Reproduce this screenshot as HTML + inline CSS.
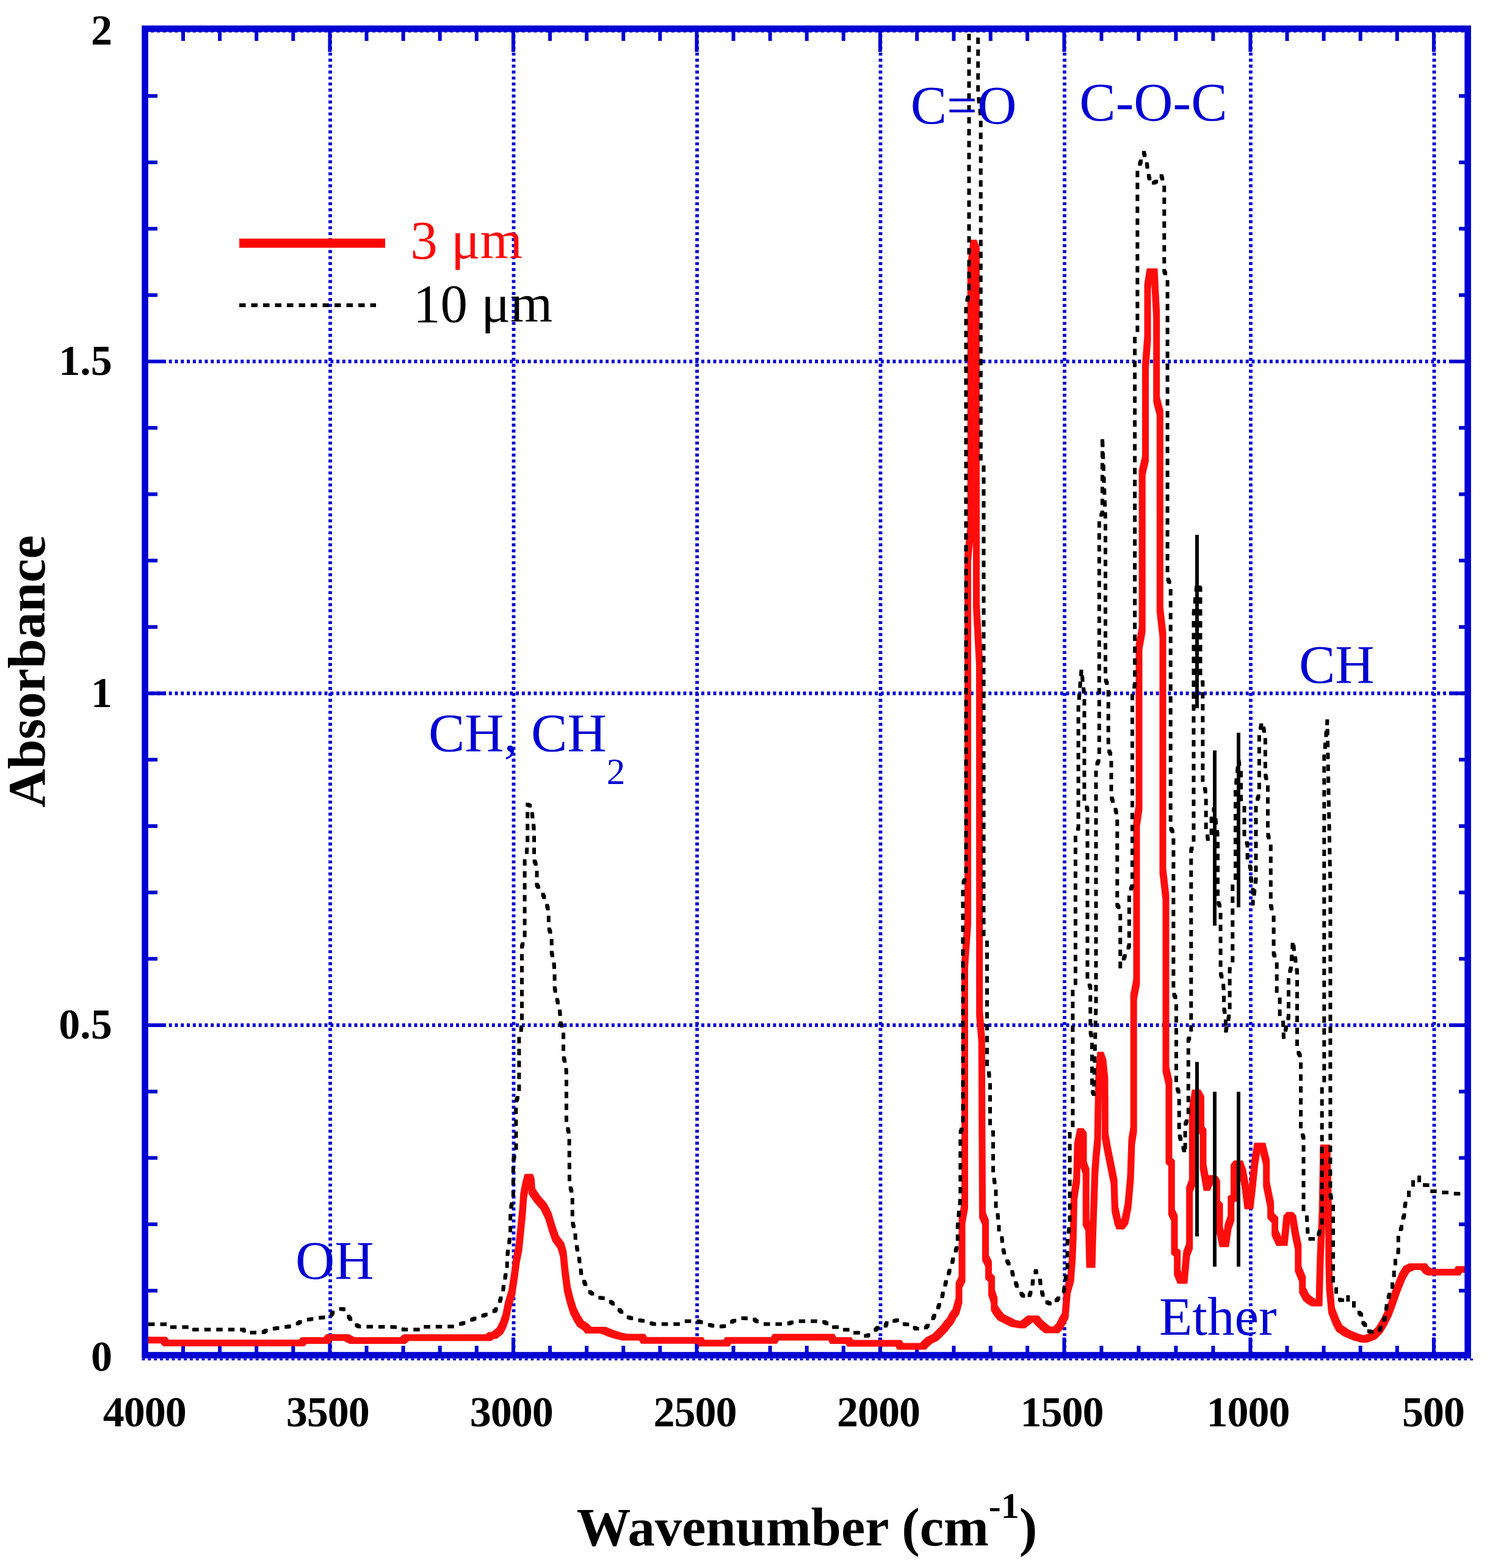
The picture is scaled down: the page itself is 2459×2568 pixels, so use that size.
<!DOCTYPE html>
<html><head><meta charset="utf-8"><title>IR spectrum</title>
<style>html,body{margin:0;padding:0;background:#fff;}svg{display:block;}</style></head>
<body><svg width="2459" height="2568" viewBox="0 0 2459 2568">
<rect width="2459" height="2568" fill="#fff"/>
<g stroke="#0000d2" stroke-width="5.8" stroke-dasharray="4.9 4.9" fill="none"><line x1="541.0" y1="47.0" x2="541.0" y2="2219.5"/><line x1="841.5" y1="47.0" x2="841.5" y2="2219.5"/><line x1="1142.0" y1="47.0" x2="1142.0" y2="2219.5"/><line x1="1442.5" y1="47.0" x2="1442.5" y2="2219.5"/><line x1="1744.0" y1="47.0" x2="1744.0" y2="2219.5"/><line x1="2049.0" y1="47.0" x2="2049.0" y2="2219.5"/><line x1="2349.5" y1="47.0" x2="2349.5" y2="2219.5"/><line x1="237.5" y1="1679.0" x2="2404.6" y2="1679.0"/><line x1="237.5" y1="1135.5" x2="2404.6" y2="1135.5"/><line x1="237.5" y1="592.0" x2="2404.6" y2="592.0"/><line x1="232.5" y1="2226.4" x2="2414.1" y2="2226.4" stroke-width="3"/><line x1="237.5" y1="52.6" x2="2404.6" y2="52.6" stroke-width="1.4"/></g>
<g stroke="#0000d2" stroke-width="6" fill="none"><line x1="300.0" y1="47.0" x2="300.0" y2="67.0"/><line x1="300.0" y1="2219.5" x2="300.0" y2="2204.0"/><line x1="360.1" y1="47.0" x2="360.1" y2="67.0"/><line x1="360.1" y1="2219.5" x2="360.1" y2="2204.0"/><line x1="420.2" y1="47.0" x2="420.2" y2="67.0"/><line x1="420.2" y1="2219.5" x2="420.2" y2="2204.0"/><line x1="480.3" y1="47.0" x2="480.3" y2="67.0"/><line x1="480.3" y1="2219.5" x2="480.3" y2="2204.0"/><line x1="540.4" y1="47.0" x2="540.4" y2="85.0"/><line x1="540.4" y1="2219.5" x2="540.4" y2="2190.5"/><line x1="600.5" y1="47.0" x2="600.5" y2="67.0"/><line x1="600.5" y1="2219.5" x2="600.5" y2="2204.0"/><line x1="660.6" y1="47.0" x2="660.6" y2="67.0"/><line x1="660.6" y1="2219.5" x2="660.6" y2="2204.0"/><line x1="720.7" y1="47.0" x2="720.7" y2="67.0"/><line x1="720.7" y1="2219.5" x2="720.7" y2="2204.0"/><line x1="780.8" y1="47.0" x2="780.8" y2="67.0"/><line x1="780.8" y1="2219.5" x2="780.8" y2="2204.0"/><line x1="840.9" y1="47.0" x2="840.9" y2="85.0"/><line x1="840.9" y1="2219.5" x2="840.9" y2="2190.5"/><line x1="901.0" y1="47.0" x2="901.0" y2="67.0"/><line x1="901.0" y1="2219.5" x2="901.0" y2="2204.0"/><line x1="961.1" y1="47.0" x2="961.1" y2="67.0"/><line x1="961.1" y1="2219.5" x2="961.1" y2="2204.0"/><line x1="1021.2" y1="47.0" x2="1021.2" y2="67.0"/><line x1="1021.2" y1="2219.5" x2="1021.2" y2="2204.0"/><line x1="1081.3" y1="47.0" x2="1081.3" y2="67.0"/><line x1="1081.3" y1="2219.5" x2="1081.3" y2="2204.0"/><line x1="1141.4" y1="47.0" x2="1141.4" y2="85.0"/><line x1="1141.4" y1="2219.5" x2="1141.4" y2="2190.5"/><line x1="1201.5" y1="47.0" x2="1201.5" y2="67.0"/><line x1="1201.5" y1="2219.5" x2="1201.5" y2="2204.0"/><line x1="1261.6" y1="47.0" x2="1261.6" y2="67.0"/><line x1="1261.6" y1="2219.5" x2="1261.6" y2="2204.0"/><line x1="1321.7" y1="47.0" x2="1321.7" y2="67.0"/><line x1="1321.7" y1="2219.5" x2="1321.7" y2="2204.0"/><line x1="1381.8" y1="47.0" x2="1381.8" y2="67.0"/><line x1="1381.8" y1="2219.5" x2="1381.8" y2="2204.0"/><line x1="1441.9" y1="47.0" x2="1441.9" y2="85.0"/><line x1="1441.9" y1="2219.5" x2="1441.9" y2="2190.5"/><line x1="1502.2" y1="47.0" x2="1502.2" y2="67.0"/><line x1="1502.2" y1="2219.5" x2="1502.2" y2="2204.0"/><line x1="1562.5" y1="47.0" x2="1562.5" y2="67.0"/><line x1="1562.5" y1="2219.5" x2="1562.5" y2="2204.0"/><line x1="1622.8" y1="47.0" x2="1622.8" y2="67.0"/><line x1="1622.8" y1="2219.5" x2="1622.8" y2="2204.0"/><line x1="1683.1" y1="47.0" x2="1683.1" y2="67.0"/><line x1="1683.1" y1="2219.5" x2="1683.1" y2="2204.0"/><line x1="1743.4" y1="47.0" x2="1743.4" y2="85.0"/><line x1="1743.4" y1="2219.5" x2="1743.4" y2="2190.5"/><line x1="1804.4" y1="47.0" x2="1804.4" y2="67.0"/><line x1="1804.4" y1="2219.5" x2="1804.4" y2="2204.0"/><line x1="1865.4" y1="47.0" x2="1865.4" y2="67.0"/><line x1="1865.4" y1="2219.5" x2="1865.4" y2="2204.0"/><line x1="1926.4" y1="47.0" x2="1926.4" y2="67.0"/><line x1="1926.4" y1="2219.5" x2="1926.4" y2="2204.0"/><line x1="1987.4" y1="47.0" x2="1987.4" y2="67.0"/><line x1="1987.4" y1="2219.5" x2="1987.4" y2="2204.0"/><line x1="2048.4" y1="47.0" x2="2048.4" y2="85.0"/><line x1="2048.4" y1="2219.5" x2="2048.4" y2="2190.5"/><line x1="2108.5" y1="47.0" x2="2108.5" y2="67.0"/><line x1="2108.5" y1="2219.5" x2="2108.5" y2="2204.0"/><line x1="2168.6" y1="47.0" x2="2168.6" y2="67.0"/><line x1="2168.6" y1="2219.5" x2="2168.6" y2="2204.0"/><line x1="2228.7" y1="47.0" x2="2228.7" y2="67.0"/><line x1="2228.7" y1="2219.5" x2="2228.7" y2="2204.0"/><line x1="2288.8" y1="47.0" x2="2288.8" y2="67.0"/><line x1="2288.8" y1="2219.5" x2="2288.8" y2="2204.0"/><line x1="2348.9" y1="47.0" x2="2348.9" y2="85.0"/><line x1="2348.9" y1="2219.5" x2="2348.9" y2="2190.5"/><line x1="237.5" y1="2113.8" x2="258.0" y2="2113.8"/><line x1="2404.6" y1="2113.8" x2="2390.0" y2="2113.8"/><line x1="237.5" y1="2005.1" x2="258.0" y2="2005.1"/><line x1="2404.6" y1="2005.1" x2="2390.0" y2="2005.1"/><line x1="237.5" y1="1896.4" x2="258.0" y2="1896.4"/><line x1="2404.6" y1="1896.4" x2="2390.0" y2="1896.4"/><line x1="237.5" y1="1787.7" x2="258.0" y2="1787.7"/><line x1="2404.6" y1="1787.7" x2="2390.0" y2="1787.7"/><line x1="237.5" y1="1679.0" x2="272.0" y2="1679.0"/><line x1="2404.6" y1="1679.0" x2="2375.6" y2="1679.0"/><line x1="237.5" y1="1570.3" x2="258.0" y2="1570.3"/><line x1="2404.6" y1="1570.3" x2="2390.0" y2="1570.3"/><line x1="237.5" y1="1461.6" x2="258.0" y2="1461.6"/><line x1="2404.6" y1="1461.6" x2="2390.0" y2="1461.6"/><line x1="237.5" y1="1352.9" x2="258.0" y2="1352.9"/><line x1="2404.6" y1="1352.9" x2="2390.0" y2="1352.9"/><line x1="237.5" y1="1244.2" x2="258.0" y2="1244.2"/><line x1="2404.6" y1="1244.2" x2="2390.0" y2="1244.2"/><line x1="237.5" y1="1135.5" x2="272.0" y2="1135.5"/><line x1="2404.6" y1="1135.5" x2="2375.6" y2="1135.5"/><line x1="237.5" y1="1026.8" x2="258.0" y2="1026.8"/><line x1="2404.6" y1="1026.8" x2="2390.0" y2="1026.8"/><line x1="237.5" y1="918.1" x2="258.0" y2="918.1"/><line x1="2404.6" y1="918.1" x2="2390.0" y2="918.1"/><line x1="237.5" y1="809.4" x2="258.0" y2="809.4"/><line x1="2404.6" y1="809.4" x2="2390.0" y2="809.4"/><line x1="237.5" y1="700.7" x2="258.0" y2="700.7"/><line x1="2404.6" y1="700.7" x2="2390.0" y2="700.7"/><line x1="237.5" y1="592.0" x2="272.0" y2="592.0"/><line x1="2404.6" y1="592.0" x2="2375.6" y2="592.0"/><line x1="237.5" y1="483.3" x2="258.0" y2="483.3"/><line x1="2404.6" y1="483.3" x2="2390.0" y2="483.3"/><line x1="237.5" y1="374.6" x2="258.0" y2="374.6"/><line x1="2404.6" y1="374.6" x2="2390.0" y2="374.6"/><line x1="237.5" y1="265.9" x2="258.0" y2="265.9"/><line x1="2404.6" y1="265.9" x2="2390.0" y2="265.9"/><line x1="237.5" y1="157.2" x2="258.0" y2="157.2"/><line x1="2404.6" y1="157.2" x2="2390.0" y2="157.2"/></g>
<defs><filter id="sq" x="0" y="0" width="2459" height="2568" filterUnits="userSpaceOnUse"><feMorphology operator="dilate" radius="4"/></filter><filter id="sq2" x="0" y="0" width="2459" height="2568" filterUnits="userSpaceOnUse"><feMorphology operator="dilate" radius="2"/></filter><clipPath id="pc"><rect x="237.5" y="47.0" width="2167.1" height="2172.5"/></clipPath></defs>
<g clip-path="url(#pc)"><polyline points="232.0,2194.7 268.0,2194.7 272.0,2199.5 494.0,2199.5 498.0,2195.5 535.0,2195.5 539.0,2190.5 567.0,2190.5 577.0,2195.5 660.0,2195.5 665.0,2190.8 800.0,2190.8 805.0,2187.0 809.4,2187.2 819.0,2179.5 824.0,2169.8 828.8,2156.2 832.6,2136.8 838.4,2117.4 842.3,2092.2 846.2,2063.2 850.1,2043.8 853.0,2014.7 855.9,1985.7 857.8,1958.5 860.7,1943.0 864.6,1928.0 868.0,1928.0 870.4,1935.0 871.4,1950.8 879.1,1962.4 890.8,1976.0 898.5,1991.5 904.3,2010.9 910.2,2028.3 918.9,2040.0 922.8,2053.5 925.7,2082.6 929.5,2111.6 934.4,2131.0 939.2,2146.5 945.0,2158.1 950.9,2167.8 959.6,2173.6 964.0,2178.5 988.0,2178.5 998.0,2182.7 1013.0,2187.6 1024.0,2190.0 1052.0,2190.0 1055.0,2195.3 1147.0,2195.3 1150.0,2199.8 1190.0,2199.8 1193.0,2195.3 1268.0,2195.3 1271.0,2190.0 1352.0,2190.0 1362.0,2190.0 1365.0,2195.4 1390.0,2195.4 1393.0,2200.0 1472.0,2200.0 1475.0,2205.0 1512.0,2205.0 1516.6,2200.0 1522.5,2195.0 1532.0,2190.3 1537.7,2185.0 1542.4,2180.0 1547.0,2175.4 1551.8,2168.7 1556.5,2163.6 1561.0,2155.0 1566.0,2148.0 1571.0,2130.0 1571.0,2105.0 1576.0,2095.0 1576.0,2000.0 1580.5,1975.0 1580.5,1580.0 1585.5,1510.0 1585.5,913.0 1590.3,866.0 1590.3,440.0 1595.0,398.0 1599.5,410.0 1599.5,990.0 1601.0,1020.0 1604.5,1085.0 1604.7,1660.0 1608.2,1702.0 1609.5,1990.0 1614.5,2002.0 1614.5,2060.0 1619.5,2070.0 1619.5,2090.0 1624.5,2095.0 1624.5,2117.0 1628.8,2130.0 1628.8,2142.0 1633.8,2150.0 1640.0,2157.5 1650.0,2162.5 1660.0,2167.5 1675.0,2170.0 1680.0,2166.0 1687.6,2160.0 1697.0,2160.0 1702.0,2166.0 1708.0,2171.5 1716.0,2178.0 1730.0,2178.0 1736.0,2172.0 1741.0,2162.0 1745.0,2155.0 1748.4,2114.5 1754.0,2095.0 1756.8,2058.5 1758.2,2024.8 1759.6,1960.3 1763.8,1932.3 1765.2,1876.0 1770.0,1853.0 1775.0,1859.4 1775.0,1907.0 1779.2,1918.3 1779.2,2002.4 1783.5,2010.8 1785.0,2071.0 1789.0,2071.0 1790.5,2016.4 1793.8,1918.3 1796.0,1890.0 1798.0,1870.0 1800.0,1760.0 1803.0,1728.0 1807.0,1740.0 1810.0,1770.0 1810.5,1860.0 1814.0,1880.0 1818.0,1900.0 1822.0,1920.0 1825.0,1935.0 1826.5,1980.0 1831.0,2000.0 1834.0,2008.0 1836.5,2008.0 1843.0,2000.0 1848.0,1975.0 1852.0,1930.0 1854.0,1870.0 1857.2,1850.0 1857.2,1633.0 1862.0,1608.0 1862.0,1350.0 1866.0,1322.0 1866.0,1060.0 1871.2,1031.0 1871.2,774.0 1876.5,751.0 1876.5,600.0 1880.0,554.0 1880.0,470.0 1884.0,445.0 1891.0,445.0 1894.7,516.0 1894.7,654.0 1900.3,676.0 1900.3,998.0 1905.0,1040.0 1905.0,1426.0 1910.0,1470.0 1910.0,1751.0 1915.0,1773.0 1915.0,1901.0 1919.3,1905.0 1919.3,1985.0 1924.0,1995.0 1924.0,2049.0 1928.7,2053.0 1928.7,2084.0 1934.0,2097.0 1940.0,2097.0 1944.0,2053.0 1948.7,2041.0 1948.7,1948.0 1953.4,1936.0 1953.4,1819.0 1958.0,1790.0 1962.0,1790.0 1967.5,1800.0 1967.5,1849.0 1971.0,1854.0 1971.0,1910.0 1977.0,1945.0 1984.0,1930.0 1990.0,1932.0 1993.3,1938.0 1993.3,1971.0 1998.0,1976.0 1998.0,2013.0 2003.0,2037.0 2008.0,2037.0 2012.0,2009.0 2016.8,1995.0 2016.8,1964.0 2021.5,1962.0 2021.5,1912.0 2026.0,1906.0 2031.0,1906.0 2036.0,1920.0 2040.0,1943.0 2044.0,1975.0 2048.0,1975.0 2052.0,1940.0 2055.6,1904.0 2060.0,1877.0 2068.0,1877.0 2074.7,1904.0 2074.7,1939.0 2081.7,1974.0 2081.7,1991.0 2088.6,1998.0 2088.6,2019.0 2096.0,2035.0 2104.0,2035.0 2108.0,1995.0 2113.0,1990.0 2118.0,1995.0 2122.0,2020.0 2126.8,2043.0 2126.8,2078.0 2133.7,2095.0 2133.7,2113.0 2140.0,2125.0 2146.0,2130.0 2153.0,2134.0 2161.0,2134.0 2163.0,2060.0 2166.0,1990.0 2168.0,1880.0 2174.0,1880.0 2176.0,1960.0 2177.0,2069.0 2178.0,2108.0 2181.5,2146.0 2184.0,2152.6 2189.0,2165.4 2194.3,2175.6 2205.8,2183.3 2221.0,2189.7 2235.2,2193.5 2249.3,2188.4 2259.5,2178.2 2267.2,2165.4 2273.6,2152.6 2278.7,2139.8 2283.2,2127.0 2287.6,2114.3 2292.7,2101.5 2297.9,2088.7 2304.3,2078.5 2313.0,2074.6 2332.4,2074.6 2336.0,2079.7 2342.6,2083.6 2387.4,2083.6 2390.0,2079.0 2410.0,2079.0" fill="none" stroke="#ff0808" stroke-width="3.0" stroke-linejoin="round" filter="url(#sq)"/><polyline points="232.0,2168.7 276.0,2168.7 278.0,2173.5 316.0,2173.5 318.0,2177.6 399.0,2177.6 401.0,2182.4 431.0,2182.4 438.0,2177.6 473.0,2172.5 485.8,2168.7 495.0,2163.0 517.7,2159.0 541.7,2156.0 545.0,2149.5 556.0,2143.8 562.5,2143.8 569.0,2152.7 578.5,2167.0 588.0,2172.5 655.0,2173.5 661.6,2177.6 687.0,2177.6 690.0,2173.0 741.5,2172.5 754.0,2168.7 767.0,2164.0 780.0,2158.5 792.7,2154.3 811.3,2146.5 819.0,2131.0 823.9,2114.5 826.4,2098.0 830.7,2076.7 830.7,2059.3 833.6,2039.0 836.1,2020.5 836.1,1981.8 840.8,1962.4 840.8,1900.4 845.5,1885.0 845.2,1804.5 850.4,1792.3 850.4,1694.3 853.5,1688.2 855.0,1676.0 855.0,1550.3 859.6,1535.0 859.6,1406.4 862.7,1397.2 864.2,1381.9 864.2,1317.6 870.4,1320.6 873.4,1346.7 875.0,1360.0 875.0,1409.0 879.5,1418.6 879.5,1449.3 887.2,1460.0 893.3,1473.8 898.8,1492.0 898.8,1519.7 903.7,1532.0 903.7,1559.5 907.1,1574.8 908.6,1590.0 908.6,1617.7 911.7,1633.0 916.3,1651.4 918.4,1666.7 918.4,1676.0 923.0,1685.0 923.0,1731.0 927.0,1743.3 927.9,1758.6 927.9,1841.3 932.5,1856.6 933.0,1941.0 937.7,1954.7 937.7,2001.2 942.1,2016.7 943.1,2034.0 947.4,2053.5 950.5,2071.9 952.8,2090.3 960.2,2105.8 966.7,2116.2 979.0,2124.8 995.0,2127.0 1005.8,2136.5 1015.4,2146.0 1025.0,2155.7 1040.0,2161.0 1056.0,2163.7 1070.8,2168.4 1113.4,2168.4 1124.0,2163.7 1143.0,2163.7 1158.0,2168.4 1173.0,2173.1 1190.0,2171.6 1200.8,2163.7 1215.7,2158.8 1235.0,2160.0 1239.0,2163.7 1250.0,2168.4 1290.0,2168.4 1303.0,2163.7 1348.0,2163.7 1356.0,2168.4 1363.0,2169.0 1366.0,2173.4 1377.0,2173.4 1381.0,2177.8 1392.0,2177.8 1396.0,2182.8 1406.0,2182.8 1410.0,2187.7 1421.0,2187.7 1432.0,2180.3 1439.0,2173.4 1450.0,2173.4 1454.0,2163.7 1464.0,2163.7 1473.0,2161.3 1483.0,2169.0 1494.0,2169.0 1500.0,2176.0 1515.0,2176.0 1524.5,2166.4 1531.3,2153.7 1539.0,2136.7 1543.8,2122.0 1548.9,2102.5 1553.3,2087.5 1558.0,2075.0 1563.3,2055.0 1568.8,2040.0 1568.8,2010.0 1570.0,1995.0 1572.5,1972.5 1573.3,1960.0 1573.3,1855.0 1577.5,1845.0 1577.5,1448.0 1582.5,1436.0 1582.5,497.0 1587.5,483.0 1587.5,30.0 1597.8,30.0 1602.3,52.0 1602.3,152.0 1606.7,191.0 1606.8,754.0 1611.5,763.0 1611.5,1530.6 1617.0,1539.5 1617.0,1750.0 1620.0,1757.5 1622.0,1772.5 1622.0,1840.0 1627.0,1855.0 1627.0,1920.0 1628.8,1932.5 1631.5,1947.5 1631.5,1975.0 1634.5,1990.0 1636.5,2005.0 1636.5,2015.0 1641.3,2027.5 1643.8,2047.5 1648.3,2062.5 1655.8,2075.0 1660.8,2092.5 1667.5,2110.0 1675.0,2121.3 1684.5,2126.5 1690.0,2113.0 1692.5,2096.0 1697.0,2081.4 1704.0,2098.0 1706.5,2115.0 1712.0,2131.0 1724.0,2137.0 1733.0,2127.5 1743.0,2114.0 1745.5,2096.0 1748.5,2075.0 1748.5,2036.0 1751.0,2016.0 1752.6,2002.0 1752.6,1854.0 1757.4,1845.0 1757.4,1622.0 1761.9,1614.0 1761.9,1370.0 1766.6,1356.0 1766.6,1157.0 1771.7,1097.0 1776.4,1140.0 1776.4,1314.0 1781.5,1325.0 1781.5,1608.0 1786.3,1616.0 1786.3,1690.0 1789.0,1700.0 1789.0,1786.0 1792.0,1792.0 1795.5,1644.0 1795.5,1255.0 1800.8,1244.0 1800.8,847.0 1805.9,841.0 1805.9,716.0 1811.0,852.0 1811.0,1113.0 1815.7,1124.0 1815.7,1227.0 1820.5,1238.0 1820.5,1305.0 1825.5,1319.0 1830.3,1336.0 1830.3,1482.0 1835.3,1490.0 1835.3,1583.0 1849.9,1549.0 1849.9,1462.0 1855.0,1451.0 1855.0,1140.0 1859.1,1121.0 1859.1,552.0 1863.4,543.0 1863.4,280.0 1874.0,250.0 1878.8,268.0 1881.6,287.0 1885.8,302.0 1898.0,295.0 1902.2,287.0 1907.3,301.0 1907.3,444.0 1912.6,455.0 1912.6,947.0 1917.7,958.0 1917.7,1356.0 1922.4,1364.0 1922.4,1627.0 1927.0,1636.0 1927.0,1779.0 1931.7,1790.0 1931.7,1858.0 1937.0,1875.0 1941.6,1889.0 1941.6,1842.0 1946.8,1830.0 1946.8,1703.0 1951.3,1695.0 1951.3,1392.0 1955.5,1383.0 1955.5,1006.0 1961.0,955.0 1966.5,964.0 1966.5,1107.0 1970.4,1118.0 1970.4,1283.0 1974.6,1294.0 1975.7,1312.0 1975.7,1358.0 1979.3,1376.0 1984.6,1366.0 1984.6,1335.0 1989.0,1325.0 1995.0,1370.0 1995.0,1476.0 1999.6,1487.0 1999.6,1594.0 2003.2,1605.0 2005.0,1623.0 2005.0,1651.0 2007.9,1665.0 2008.0,1690.0 2014.6,1658.0 2014.6,1587.0 2019.3,1580.0 2019.3,1451.0 2024.0,1444.0 2024.0,1294.0 2029.0,1245.0 2033.0,1265.0 2033.0,1309.0 2038.5,1321.0 2038.5,1371.0 2043.6,1383.0 2043.6,1405.0 2049.0,1423.0 2049.0,1437.0 2052.5,1455.0 2052.5,1480.0 2057.5,1440.0 2057.5,1316.0 2062.9,1301.0 2062.9,1201.0 2067.5,1183.0 2072.9,1205.0 2072.9,1269.0 2077.0,1284.0 2077.0,1366.0 2081.8,1384.0 2081.8,1483.0 2086.6,1498.0 2086.6,1562.0 2091.7,1573.0 2091.7,1623.0 2096.6,1634.0 2096.6,1661.0 2102.0,1672.0 2103.0,1700.0 2111.0,1665.0 2111.0,1599.0 2115.0,1585.0 2118.0,1541.0 2125.0,1592.0 2125.0,1720.0 2131.0,1731.0 2131.0,1852.0 2135.5,1863.0 2135.5,1984.0 2140.7,1990.0 2143.0,2029.0 2158.0,2029.0 2165.7,2005.0 2165.7,1783.0 2169.3,1776.0 2169.3,1241.0 2174.4,1181.0 2179.4,1452.0 2179.4,1956.0 2184.0,1974.0 2184.0,2102.0 2189.0,2111.0 2189.0,2122.0 2196.2,2129.6 2203.0,2129.0 2208.4,2122.0 2208.4,2132.0 2218.0,2132.0 2218.0,2141.0 2225.6,2148.8 2232.7,2156.0 2232.7,2166.0 2237.5,2171.0 2237.5,2179.0 2250.0,2182.0 2258.0,2182.0 2261.8,2175.0 2261.8,2166.0 2269.0,2160.0 2269.0,2151.0 2271.6,2141.0 2271.6,2132.0 2276.0,2122.0 2276.0,2112.0 2281.0,2108.0 2281.0,2098.0 2283.8,2088.0 2283.8,2080.0 2286.0,2069.0 2286.0,2059.0 2290.8,2050.0 2290.8,2020.0 2296.0,2011.0 2296.0,2001.0 2300.4,1991.0 2300.4,1982.0 2303.0,1968.0 2308.0,1960.0 2308.0,1951.0 2315.0,1943.0 2315.0,1933.0 2325.0,1928.0 2325.0,1939.0 2336.0,1941.0 2343.0,1941.0 2346.0,1951.0 2352.0,1951.0 2364.0,1953.0 2373.0,1953.0 2385.0,1955.0 2410.0,1955.0" fill="none" stroke="#000" stroke-width="2.0" stroke-dasharray="6.5 13" stroke-dashoffset="6.5" stroke-linejoin="round" filter="url(#sq2)"/><line x1="1961" y1="876" x2="1961" y2="1160" stroke="#000" stroke-width="5.9"/><line x1="1961" y1="1739" x2="1961" y2="2025" stroke="#000" stroke-width="5.9"/><line x1="1990" y1="1229" x2="1990" y2="1516" stroke="#000" stroke-width="5.9"/><line x1="1990" y1="1788" x2="1990" y2="2074.6" stroke="#000" stroke-width="5.9"/><line x1="2029" y1="1200" x2="2029" y2="1486" stroke="#000" stroke-width="5.9"/><line x1="2029" y1="1788" x2="2029" y2="2074.6" stroke="#000" stroke-width="5.9"/></g>
<rect x="237.5" y="47.0" width="2167.1" height="2172.5" fill="none" stroke="#0000d2" stroke-width="10.6"/>
<line x1="392" y1="398.3" x2="631" y2="398.3" stroke="#ff0808" stroke-width="15"/>
<line x1="392" y1="499.9" x2="616" y2="499.9" stroke="#000" stroke-width="6.2" stroke-dasharray="10.5 9"/>
<g font-family="'Liberation Serif', 'Times New Roman', serif"><text x="182" y="72.9" font-size="70" text-anchor="end" fill="#000" font-weight="bold" letter-spacing="-2">2</text><text x="183.8" y="613.9" font-size="70" text-anchor="end" fill="#000" font-weight="bold" letter-spacing="0">1.5</text><text x="182" y="1158.2" font-size="70" text-anchor="end" fill="#000" font-weight="bold" letter-spacing="-2">1</text><text x="183.8" y="1701.0" font-size="70" text-anchor="end" fill="#000" font-weight="bold" letter-spacing="0">0.5</text><text x="182" y="2245.0" font-size="70" text-anchor="end" fill="#000" font-weight="bold" letter-spacing="-2">0</text><text x="236.8" y="2335.8" font-size="70" text-anchor="middle" fill="#000" font-weight="bold" letter-spacing="-1">4000</text><text x="536.8" y="2335.8" font-size="70" text-anchor="middle" fill="#000" font-weight="bold" letter-spacing="-1">3500</text><text x="837.7" y="2335.8" font-size="70" text-anchor="middle" fill="#000" font-weight="bold" letter-spacing="-1">3000</text><text x="1138.4" y="2335.8" font-size="70" text-anchor="middle" fill="#000" font-weight="bold" letter-spacing="-1">2500</text><text x="1439.1" y="2335.8" font-size="70" text-anchor="middle" fill="#000" font-weight="bold" letter-spacing="-1">2000</text><text x="1739.4" y="2335.8" font-size="70" text-anchor="middle" fill="#000" font-weight="bold" letter-spacing="-1">1500</text><text x="2044.5" y="2335.8" font-size="70" text-anchor="middle" fill="#000" font-weight="bold" letter-spacing="-1">1000</text><text x="2348.0" y="2335.8" font-size="70" text-anchor="middle" fill="#000" font-weight="bold" letter-spacing="-1">500</text><text x="1322" y="2530.5" font-size="88.6" text-anchor="middle" fill="#000" font-weight="bold" >Wavenumber (cm<tspan font-size="60" dy="-45">-1</tspan><tspan dy="45">)</tspan></text><text transform="translate(73,1099.5) rotate(-90)" font-size="87.3" text-anchor="middle" font-weight="bold">Absorbance</text><text x="1491.7" y="202" font-size="89" text-anchor="start" fill="#0000d2" font-weight="normal" >C=O</text><text x="1768.3" y="197" font-size="89" text-anchor="start" fill="#0000d2" font-weight="normal" >C-O-C</text><text x="2128" y="1117.8" font-size="89" text-anchor="start" fill="#0000d2" font-weight="normal" >CH</text><text x="701.9" y="1230.2" font-size="89" text-anchor="start" fill="#0000d2" font-weight="normal" >CH, CH<tspan font-size="61" dy="54">2</tspan></text><text x="484" y="2093.8" font-size="89" text-anchor="start" fill="#0000d2" font-weight="normal" >OH</text><text x="1899" y="2185.6" font-size="89" text-anchor="start" fill="#0000d2" font-weight="normal" >Ether</text><text x="672.2" y="423.4" font-size="89" text-anchor="start" fill="#ff0808" font-weight="normal" >3 &#956;m</text><text x="677" y="527" font-size="89" text-anchor="start" fill="#000" font-weight="normal" >10 &#956;m</text></g>
</svg></body></html>
